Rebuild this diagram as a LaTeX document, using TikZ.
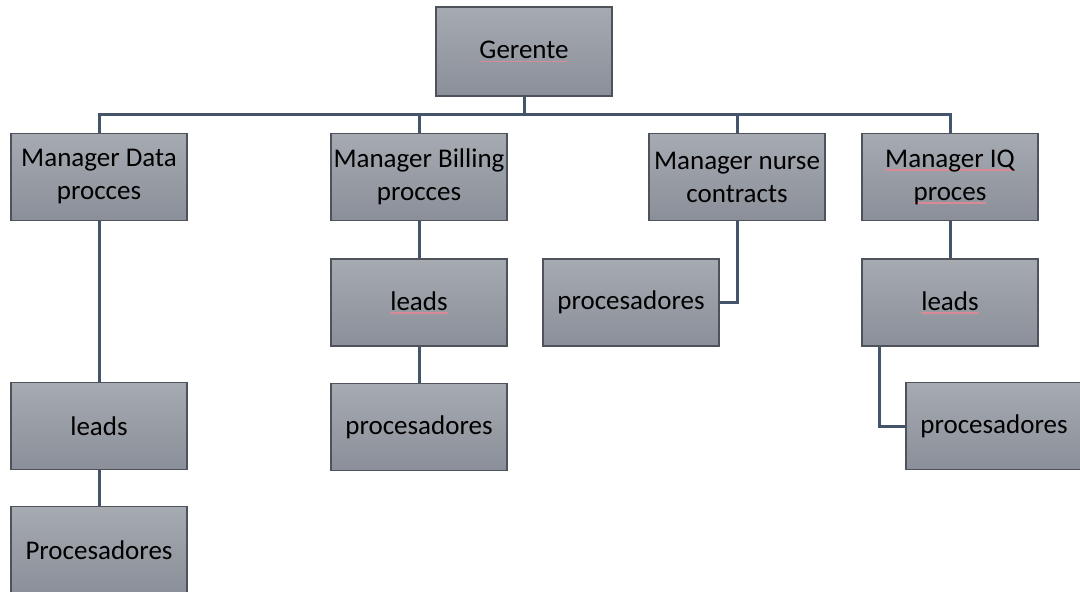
\documentclass[tikz,border=0pt]{standalone}
\usepackage{fontspec}
\setmainfont{Carlito}
\usetikzlibrary{calc}
\definecolor{boxtop}{HTML}{A6AAB1}
\definecolor{boxbot}{HTML}{8A8F99}
\definecolor{boxline}{HTML}{4E535B}
\definecolor{connc}{HTML}{44546A}
\definecolor{spellred}{HTML}{D98A96}
\newsavebox\splbox
\newcommand\spl[1]{\sbox\splbox{#1}\rlap{\textcolor{spellred}{\rule[-3.5pt]{\wd\splbox}{1.3pt}}}\usebox\splbox}
\tikzset{
  orgbox/.style={rectangle, draw=boxline, line width=1.3pt, top color=boxtop, bottom color=boxbot,
    minimum width=176pt, minimum height=87pt, inner sep=0pt, align=center,
    font=\fontsize{27}{33}\selectfont, text=black},
  conn/.style={draw=connc, line width=3pt}
}
\begin{document}
\begin{tikzpicture}[x=1pt,y=-1pt]
\useasboundingbox (0,0) rectangle (1080,592);
\node[orgbox, minimum height=89pt] (G) at (524,51.5) {\spl{Gerente}};
\node[orgbox] (MD) at (99,177) {Manager Data\\procces};
\node[orgbox] (MB) at (419,177) {Manager Billing\\procces};
\node[orgbox] (MN) at (737,177) {Manager nurse\\contracts};
\node[orgbox] (MI) at (950,177) {\spl{Manager IQ}\\\spl{proces}};
\node[orgbox] (LD) at (99,426) {leads};
\node[orgbox] (PD) at (99,550) {Procesadores};
\node[orgbox] (LB) at (419,302.5) {\spl{leads}};
\node[orgbox] (PB) at (419,427) {procesadores};
\node[orgbox] (PN) at (631,302.5) {procesadores};
\node[orgbox] (LI) at (950,302.5) {\spl{leads}};
\node[orgbox] (PI) at (994,426) {procesadores};
\coordinate (bus) at (0,114);
\draw[conn] (G.south) -- (G.south |- bus);
\draw[conn] (MD.north) -- (MD.north |- bus) -- (MI.north |- bus) -- (MI.north);
\draw[conn] (MB.north) -- (MB.north |- bus);
\draw[conn] (MN.north) -- (MN.north |- bus);
\draw[conn] (MD.south) -- (LD.north);
\draw[conn] (LD.south) -- (PD.north);
\draw[conn] (MB.south) -- (LB.north);
\draw[conn] (LB.south) -- (PB.north);
\draw[conn] (MN.south) |- (PN.east);
\draw[conn] (MI.south) -- (LI.north);
\coordinate (LIs) at ($(LI.south west)+(18,0)$);
\draw[conn] (LIs) |- (PI.west);
\end{tikzpicture}
\end{document}
